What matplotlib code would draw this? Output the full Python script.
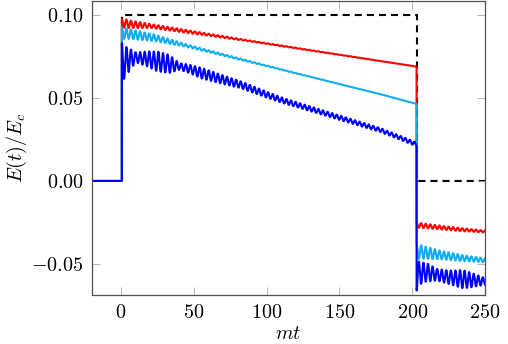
import numpy as np
import matplotlib
matplotlib.use("Agg")
import matplotlib.pyplot as plt

plt.rcParams['mathtext.fontset'] = 'cm'
plt.rcParams['font.family'] = ['DejaVu Serif']

# ---- data ----
T_ON = 0.5
T_OFF = 203.0
T_MIN, T_MAX = -20.0, 250.0
OMEGA = 2.0  # oscillation angular frequency (period ~ pi)

pulse_t = [T_ON, T_ON, T_OFF, T_OFF, T_MAX]
pulse_v = [0.0, 0.1, 0.1, 0.0, 0.0]

# red series
red_on_t = [0.5, 2, 7, 20, 88.6, 203]
red_on_trend = [0.0946, 0.0950, 0.0943, 0.0934, 0.0843, 0.0689]
red_on_amp = [0.0030, 0.0027, 0.0022, 0.0012, 0.0003, 0.0]
red_off_t = [203, 210, 230, 250]
red_off_trend = [-0.0265, -0.0272, -0.0290, -0.0305]
red_off_amp = [0.0015, 0.0013, 0.0010, 0.0006]

# light blue series
lb_on_t = [0.5, 5, 23, 45, 109.6, 178.4, 203]
lb_on_trend = [0.0890, 0.0886, 0.0862, 0.0815, 0.0672, 0.0522, 0.0464]
lb_on_amp = [0.0035, 0.0030, 0.0020, 0.0008, 0.0002, 0.0, 0.0]
lb_off_t = [203, 208, 220, 235, 250]
lb_off_trend = [-0.0425, -0.0430, -0.0447, -0.0465, -0.0478]
lb_off_amp = [0.0045, 0.0038, 0.0025, 0.0018, 0.0012]

# blue series
b_on_t = [0.5, 3, 10, 18, 25, 33, 40, 47, 55, 70, 82, 100, 110, 140, 178, 192, 203]
b_on_trend = [0.071, 0.072, 0.0745, 0.0735, 0.072, 0.0705, 0.069, 0.0675, 0.065,
              0.061, 0.058, 0.052, 0.0488, 0.0408, 0.0307, 0.0259, 0.022]
b_on_amp = [0.012, 0.009, 0.003, 0.0045, 0.006, 0.0055, 0.002, 0.0025, 0.0032,
            0.0026, 0.0021, 0.0018, 0.0016, 0.0014, 0.0012, 0.0012, 0.0012]
b_off_t = [203, 206, 210, 217, 225, 235, 242, 250]
b_off_trend = [-0.057, -0.0555, -0.055, -0.0565, -0.058, -0.0592, -0.0598, -0.0605]
b_off_amp = [0.009, 0.0065, 0.0055, 0.0035, 0.004, 0.0055, 0.004, 0.002]

xticks = [0, 50, 100, 150, 200, 250]
yticks = [-0.05, 0.0, 0.05, 0.10]
ytick_labels = [r'$-0.05$', r'$0.00$', r'$0.05$', r'$0.10$']
xtick_labels = [r'$%d$' % v for v in xticks]


def build(on_t, on_tr, on_amp, off_t, off_tr, off_amp, off_sign):
    t1 = np.arange(T_ON, T_OFF, 0.02)
    y1 = np.interp(t1, on_t, on_tr) + np.interp(t1, on_t, on_amp) * np.cos(OMEGA * (t1 - T_ON))
    t2 = np.arange(T_OFF, T_MAX + 0.01, 0.02)
    y2 = np.interp(t2, off_t, off_tr) + off_sign * np.interp(t2, off_t, off_amp) * np.cos(OMEGA * (t2 - T_OFF))
    t = np.concatenate([[T_MIN, T_ON], t1, t2])
    y = np.concatenate([[0.0, 0.0], y1, y2])
    return t, y


fig = plt.figure(figsize=(5.08, 3.44), dpi=100)
ax = fig.add_axes([92 / 508, 1 - 295 / 344, (485 - 92) / 508, (295 - 1) / 344])

lw = 1.5
ax.plot(pulse_t, pulse_v, color='black', lw=lw, ls=(0, (3.4, 2.4)), zorder=1.5)
t, y = build(red_on_t, red_on_trend, red_on_amp, red_off_t, red_off_trend, red_off_amp, 1)
ax.plot(t, y, color='#ff0000', lw=lw, zorder=2)
t, y = build(lb_on_t, lb_on_trend, lb_on_amp, lb_off_t, lb_off_trend, lb_off_amp, 1)
ax.plot(t, y, color='#10aeee', lw=lw, zorder=2)
t, y = build(b_on_t, b_on_trend, b_on_amp, b_off_t, b_off_trend, b_off_amp, -1)
ax.plot(t, y, color='#0000ff', lw=lw, zorder=2)

ax.set_xlim(T_MIN, T_MAX)
ax.set_ylim(-0.0687, 0.1084)
ax.set_xticks(xticks)
ax.set_xticklabels(xtick_labels)
ax.set_yticks(yticks)
ax.set_yticklabels(ytick_labels)
ax.tick_params(direction='in', length=5.5, width=0.6, color='#aaaaaa',
               top=True, right=True, labelsize=14.5, pad=6)
for s in ax.spines.values():
    s.set_color('#505050')
    s.set_linewidth(0.9)

ax.set_xlabel(r'$mt$', fontsize=14.5, labelpad=1)
ax.set_ylabel(r'$E(t)/E_c$', fontsize=14.5, labelpad=2)

fig.savefig('out.png', dpi=100)
